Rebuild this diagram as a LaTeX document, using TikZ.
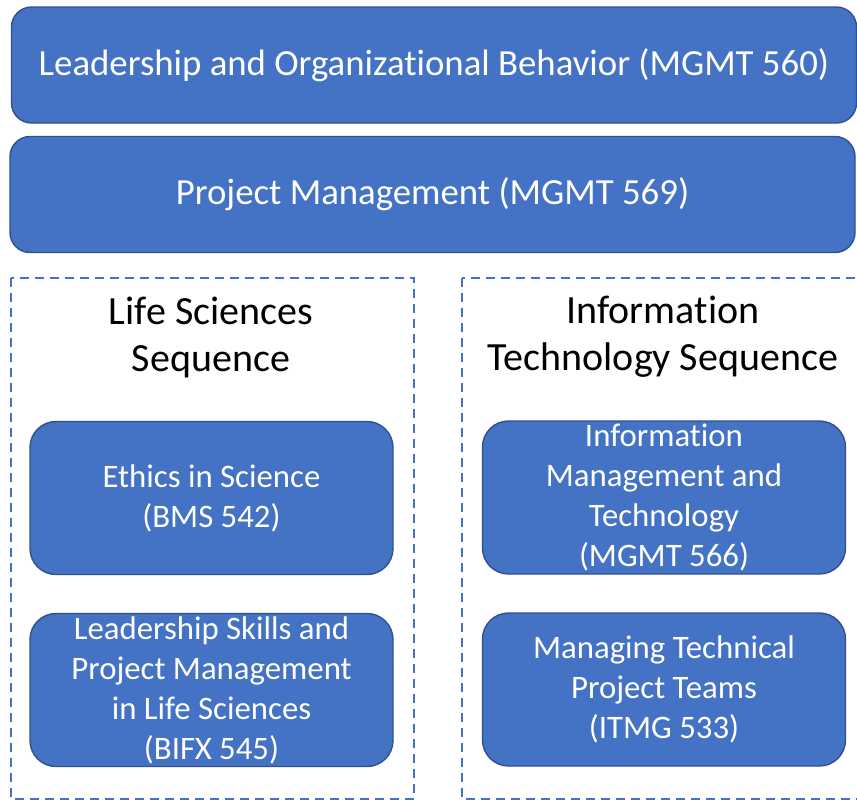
\documentclass[tikz,border=0pt]{standalone}
\usepackage{fontspec}
\setmainfont[Ligatures={NoCommon}]{Carlito}
\definecolor{boxfill}{HTML}{4472C4}
\definecolor{boxline}{HTML}{2F528F}
\definecolor{dashline}{HTML}{4472C4}
\begin{document}
\begin{tikzpicture}[x=1pt,y=-1pt,
  course/.style={draw=boxline, line width=1.4pt, fill=boxfill, text=white,
    rounded corners=20pt, align=flush center, inner sep=0pt},
  wide/.style={course, minimum width=845pt, minimum height=116pt,
    font=\fontsize{36.8}{42}\selectfont},
  small/.style={course, rounded corners=26pt, minimum width=363pt, minimum height=153pt,
    text width=350pt, font=\fontsize{32.8}{40}\selectfont},
  seqbox/.style={draw=dashline, line width=2pt, dash pattern=on 9pt off 6pt},
  seqtitle/.style={align=flush center, font=\fontsize{40}{47}\selectfont, text=black}]
\useasboundingbox (0,0) rectangle (857,801);
\clip (0,0) rectangle (857,801);

% core courses
\node[wide] (lob) at (434,65) {Leadership and Organizational Behavior (MGMT 560)};
\node[wide] (pm) at (432.5,194.5) {Project Management (MGMT 569)};

% sequence frames
\draw[seqbox] (11,278) rectangle (414,799);
\draw[seqbox] (462,278) rectangle (880,799);
\node[seqtitle] (ls) at (211,337) {Life Sciences\\Sequence};
\node[seqtitle] (it) at (663,337) {Information\\Technology Sequence};

% life sciences courses
\node[small] (bms) at (211.5,498) {Ethics in Science\\(BMS 542)};
\node[small] (bifx) at (211.5,690) {Leadership Skills and\\Project Management\\in Life Sciences\\(BIFX 545)};

% information technology courses
\node[small] (mgmt) at (664,497.5) {Information\\Management and\\Technology\\(MGMT 566)};
\node[small] (itmg) at (664,689.5) {Managing Technical\\Project Teams\\(ITMG 533)};
\end{tikzpicture}
\end{document}
